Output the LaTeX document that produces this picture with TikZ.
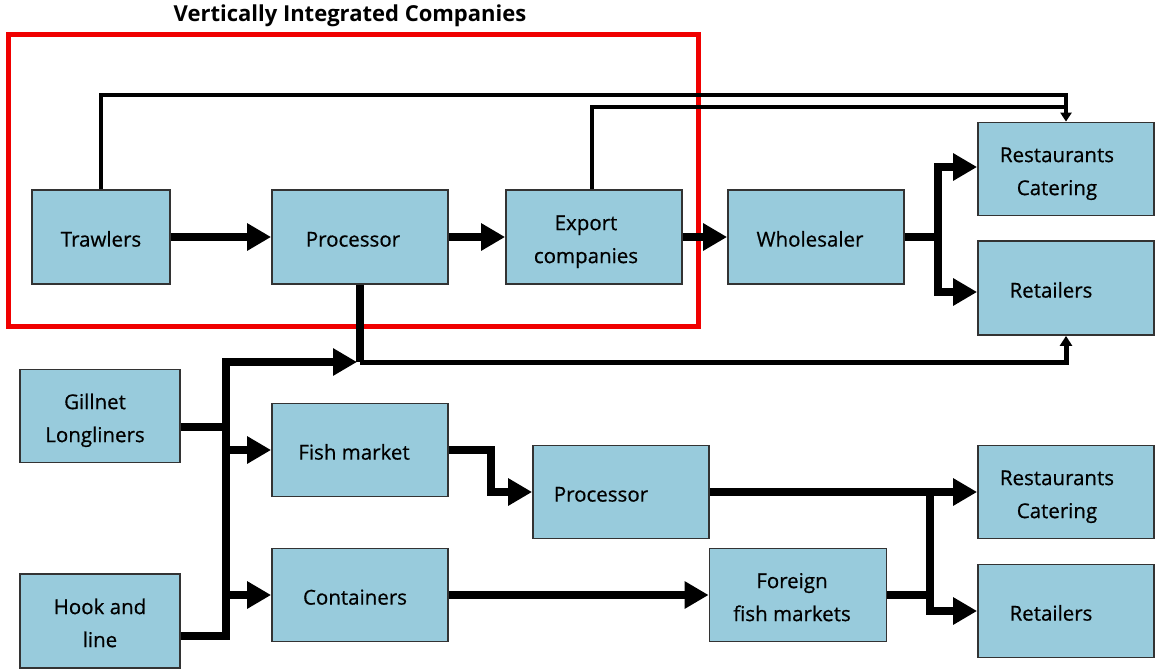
\documentclass[tikz,border=0pt]{standalone}
\usepackage{fontspec}
\setmainfont{Open Sans}
\newfontfamily\lblfont{Open Sans}[FakeBold=0.6]
\usetikzlibrary{arrows.meta}
\definecolor{boxblue}{RGB}{152,203,220}
\definecolor{redframe}{RGB}{240,0,0}
% #1 = twice the leftward shift of the text, #2 = the text
\newcommand\boxtext[2]{\raisebox{-3pt}[\height][\depth]{\begin{tabular}{@{}c@{}}#2\end{tabular}}\hspace*{#1}}
\begin{document}
\begin{tikzpicture}[x=1pt,y=-1pt,
  box/.style={draw=black!80, line width=1.8pt, fill=boxblue, minimum width=176pt,
    minimum height=93pt, inner sep=0pt, font=\lblfont\fontsize{20.5}{33}\selectfont},
  bigline/.style={line width=8pt, line join=miter},
  big/.style={bigline, -{Triangle[length=24pt,width=26pt]}},
  midarrow/.style={line width=5pt, line join=miter, -{Triangle[length=10pt,width=12pt]}},
  thinline/.style={line width=3.5pt, line join=miter},
  thinarrow/.style={thinline, -{Triangle[length=9pt,width=11pt]}}]
\useasboundingbox (0,0) rectangle (1156,669);

\node[font=\fontsize{22}{24}\selectfont\bfseries] (title) at (350,16) {Vertically Integrated Companies};
\node[draw=redframe, line width=5pt, minimum width=690pt, minimum height=291pt, inner sep=0pt] (vic) at (353,180.5) {};

% boxes
\node[box, minimum width=138pt, minimum height=94pt] (trawl) at (101,237) {\boxtext{0pt}{Trawlers}};
\node[box, minimum height=94pt] (proc1) at (360,237) {\boxtext{14pt}{Processor}};
\node[box, minimum height=94pt] (export) at (594,237) {\boxtext{16pt}{Export\\companies}};
\node[box, minimum height=94pt] (whole) at (816,237) {\boxtext{12pt}{Wholesaler}};
\node[box] (rest1) at (1066,169) {\boxtext{18pt}{Restaurants\\Catering}};
\node[box, minimum height=94pt] (ret1) at (1066,288) {\boxtext{30pt}{Retailers}};
\node[box, minimum width=160pt] (gill) at (100,416) {\boxtext{10pt}{Gillnet\\Longliners}};
\node[box] (fishm) at (360,450) {\boxtext{12pt}{Fish market}};
\node[box] (proc2) at (621,492) {\boxtext{40pt}{Processor}};
\node[box] (rest2) at (1066,492) {\boxtext{18pt}{Restaurants\\Catering}};
\node[box, minimum width=160pt, minimum height=94pt] (hook) at (100,621) {\boxtext{0pt}{Hook and\\line}};
\node[box] (cont) at (360,595) {\boxtext{10pt}{Containers}};
\node[box, minimum width=177pt] (foreign) at (798,595) {\boxtext{12pt}{Foreign\\fish markets}};
\node[box] (ret2) at (1066,611) {\boxtext{30pt}{Retailers}};

% top chain
\draw[big] (trawl) -- (proc1);
\draw[big] (proc1) -- (export);
\draw[big] (export) -- (whole);
\coordinate (wj) at (938,237);
\draw[bigline] (whole.east) -- (wj);
\draw[big] (wj) |- (rest1.west |- 0,167);
\draw[big] (wj) |- (ret1.west |- 0,292);

% thin bypass lines
\draw[thinarrow] (trawl.north) |- (rest1.north |- 0,95) -- (rest1.north);
\draw[thinline] (592,0 |- export.north) |- (rest1.north |- 0,107);

% processor down to retailers
\coordinate (pj) at (proc1.south |- 0,362);
\draw[bigline] (proc1.south) -- (pj);
\draw[midarrow] (pj) -| (ret1.south);

% trunk
\coordinate (ttop) at (226,362);
\coordinate (tbot) at (226,597);
\draw[bigline, line cap=rect] (tbot) -- (ttop);
\draw[big] (ttop) -- ([xshift=-3pt]pj);
\draw[bigline] (gill.east |- 0,427) -- (ttop |- 0,427);
\draw[big] (ttop |- fishm.west) -- (fishm.west);
\draw[big] (ttop |- cont.west) -- (cont.west);
\draw[bigline] (hook.east |- 0,636) -| (tbot);

% bottom chain
\draw[big] (fishm.east) -- ++(42,0) |- (proc2.west);
\draw[big] (cont) -- (foreign);
\draw[big] (proc2) -- (rest2);
\coordinate (bj) at (930,492);
\draw[bigline] (foreign.east) -- (foreign.east -| bj);
\draw[big] (bj) |- (ret2.west);
\end{tikzpicture}
\end{document}
